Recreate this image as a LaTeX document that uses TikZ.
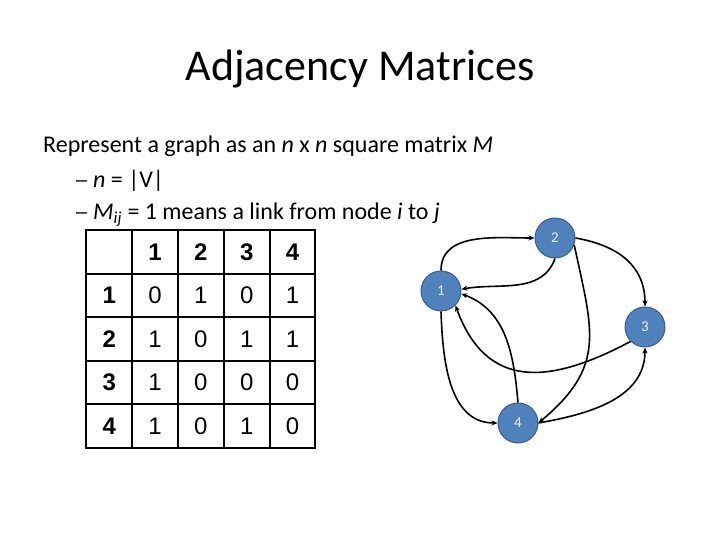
\documentclass[tikz,border=0pt]{standalone}
\usepackage{fontspec}
\setmainfont{Carlito}
\newfontfamily\tabfont{Liberation Sans}
\usetikzlibrary{arrows.meta, positioning, matrix}
\definecolor{nodeblue}{HTML}{4F81BD}
\definecolor{nodeedge}{HTML}{385D8A}

\begin{document}
\begin{tikzpicture}[
    x=1pt, y=1pt,
    % Global styles
    >=Stealth,
    % Text styles
    titletext/.style={font=\fontsize{44}{50}\selectfont, anchor=base, inner sep=0pt},
    bodytext/.style={font=\fontsize{24}{28}\selectfont, anchor=base west, inner sep=0pt},
    dashtext/.style={font=\tabfont\fontsize{20}{24}\selectfont, anchor=base west, inner sep=0pt},
    % Matrix cells
    cell/.style={
      draw, line width=2pt, anchor=center,
      minimum width=45.8pt, minimum height=43.5pt,
      text height=17pt, text depth=0pt, inner sep=0pt,
      font=\tabfont\fontsize{24}{28}\selectfont
    },
    headcell/.style={nodes={font=\tabfont\bfseries\fontsize{24}{28}\selectfont}},
    % Graph nodes
    vertex/.style={
      circle, draw=nodeedge, fill=nodeblue, line width=1pt,
      minimum size=40pt, inner sep=0pt, text=white!88!nodeblue,
      font=\fontsize{15}{17}\selectfont
    },
    link/.style={-{Stealth[length=6pt, width=5pt]}, line width=1.6pt},
  ]
  \useasboundingbox (0,0) rectangle (720,540);

  % ====================================================================
  % TITLE AND BULLETS
  % ====================================================================
  \node[titletext] (title) at (360, 459) {Adjacency Matrices};

  \node[bodytext] (b1) at (43, 387) {Represent a graph as an \textit{n} x \textit{n} square matrix \textit{M}};
  \node[dashtext] (d2) at (76, 353) {–};
  \node[bodytext] (b2) at (93, 352) {\textit{n} = |V|};
  \node[dashtext] (d3) at (76, 321) {–};
  \node[bodytext] (b3) at (93, 320) {\textit{M}\textsubscript{\textit{ij}} = 1 means a link from node \textit{i} to \textit{j}};

  % ====================================================================
  % MATRIX
  % ====================================================================
  \matrix (adj) [matrix of nodes, nodes in empty cells, nodes={cell},
    column sep=-2pt, row sep=-2pt,
    row 1/.style={headcell}, column 1/.style={headcell}] at (200.9, 201) {
      & 1 & 2 & 3 & 4 \\
    1 & 0 & 1 & 0 & 1 \\
    2 & 1 & 0 & 1 & 1 \\
    3 & 1 & 0 & 0 & 0 \\
    4 & 1 & 0 & 1 & 0 \\
  };

  % ====================================================================
  % GRAPH
  % ====================================================================
  \node[vertex] (n1) at (441, 249) {1};
  \node[vertex] (n2) at (555, 302) {2};
  \node[vertex] (n3) at (645, 213) {3};
  \node[vertex] (n4) at (518, 117) {4};

  % Links
  \draw[link] (n1.north) to[out=90, in=180] (n2.west);
  \draw[link] (n2.south) to[out=-110, in=10] (n1.5);
  \draw[link] (n2.east) to[out=-10, in=90, looseness=1.1] (n3.north);
  \draw[link] (n2.-20) to[out=-78, in=40, looseness=1.25] (n4.east);
  \draw[link] (n3.-135) to[out=-152, in=-70, looseness=1.3] (n1.-45);
  \draw[link] (n4.north) to[out=95, in=-20] (n1.-8);
  \draw[link] (n1.south) to[out=-88, in=180] (n4.west);
  \draw[link] (n4.east) to[out=10, in=-90] (n3.south);

\end{tikzpicture}
\end{document}
